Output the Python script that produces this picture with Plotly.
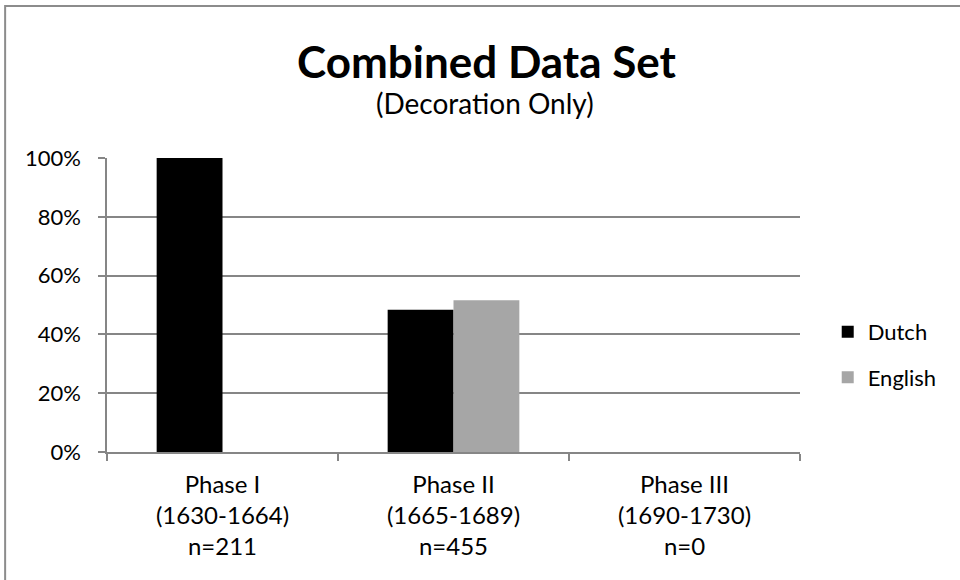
import plotly.graph_objects as go

categories = ["Phase I<br>(1630-1664)<br>n=211",
              "Phase II<br>(1665-1689)<br>n=455",
              "Phase III<br>(1690-1730)<br>n=0"]
dutch = [1.00, 0.484, 0.0]
english = [0.0, 0.516, 0.0]
y_ticks = [0, 0.2, 0.4, 0.6, 0.8, 1.0]

FONT = "Lato"
GRID = "#868686"

fig = go.Figure()
fig.add_trace(go.Bar(x=categories, y=dutch, name="Dutch",
                     marker=dict(color="#000000", line=dict(width=0)),
                     legendgroup="d"))
fig.add_trace(go.Bar(x=categories, y=english, name="English",
                     marker=dict(color="#a6a6a6", line=dict(width=0)),
                     legendgroup="e"))

fig.update_layout(
    width=960, height=580,
    margin=dict(l=107, r=160, t=158, b=128),
    paper_bgcolor="white", plot_bgcolor="white",
    barmode="group", bargap=0.43, bargroupgap=0,
    font=dict(family=FONT, color="#000000", size=22),
    showlegend=True,
    legend=dict(x=1.04, xanchor="left", y=0.48, yanchor="top",
                font=dict(family=FONT, size=22, color="#000000"),
                traceorder="grouped", tracegroupgap=14,
                bgcolor="rgba(0,0,0,0)"),
    xaxis=dict(showline=True, linecolor=GRID, linewidth=1.5,
               ticks="outside", ticklen=7, tickcolor=GRID, tickwidth=1.5,
               tickson="boundaries", showgrid=False, ticklabelstandoff=10,
               tickfont=dict(family=FONT, size=24, color="#000000")),
    yaxis=dict(range=[0, 1], tickvals=y_ticks, tickformat=".0%",
               showline=True, linecolor=GRID, linewidth=1.5,
               ticks="outside", ticklen=7, tickcolor=GRID, tickwidth=1.5,
               showgrid=True, gridcolor=GRID, gridwidth=1.5,
               zeroline=False, ticklabelstandoff=13,
               tickfont=dict(family=FONT, size=22, color="#000000")),
    annotations=[
        dict(text="<b>Combined Data Set</b>", xref="paper", yref="paper",
             x=0.548, y=1.33, xanchor="center", yanchor="middle",
             showarrow=False, font=dict(family=FONT, size=44, color="#000000")),
        dict(text="(Decoration Only)", xref="paper", yref="paper",
             x=0.545, y=1.187, xanchor="center", yanchor="middle",
             showarrow=False, font=dict(family=FONT, size=28, color="#000000")),
    ],
    shapes=[
        dict(type="rect", xref="paper", yref="paper",
             x0=-0.147, x1=1.6, y0=-0.7, y1=1.517,
             line=dict(color="#8c8c8c", width=2), fillcolor="rgba(0,0,0,0)",
             layer="below"),
    ],
)

fig.write_html("out.html", config={"displayModeBar": False},
               post_script="document.body.style.margin='0';")
